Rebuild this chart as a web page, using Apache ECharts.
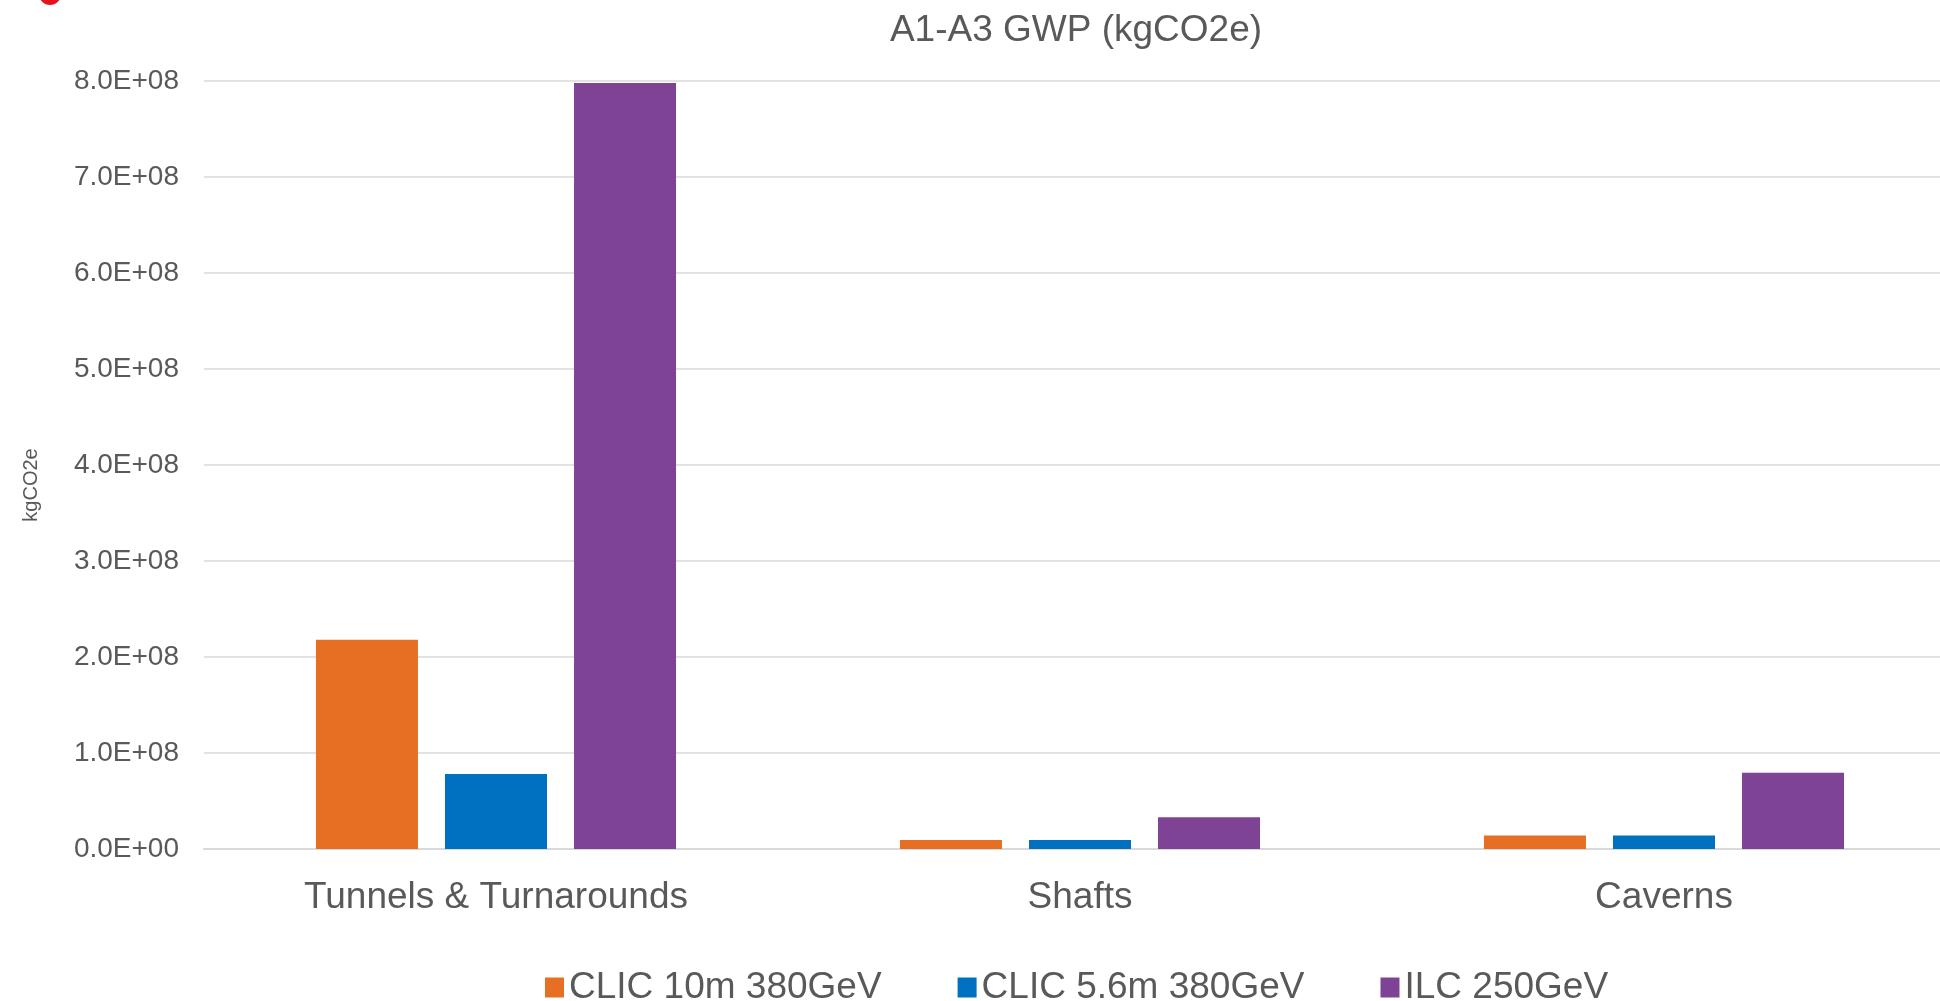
<!DOCTYPE html>
<html>
<head>
<meta charset="utf-8">
<script src="https://cdn.jsdelivr.net/npm/echarts@6/dist/echarts.min.js"></script>
<style>
html,body{margin:0;padding:0;background:#fff;overflow:hidden;}
#chart{width:1960px;height:1001px;}
</style>
</head>
<body>
<div id="chart"></div>
<script>
var categories = ['Tunnels & Turnarounds', 'Shafts', 'Caverns'];
var seriesNames = ['CLIC 10m 380GeV', 'CLIC 5.6m 380GeV', 'ILC 250GeV'];
var clic10 = [2.18e8, 9.5e6, 1.4e7];
var clic56 = [7.8e7, 9.5e6, 1.4e7];
var ilc250 = [7.98e8, 3.3e7, 7.95e7];
var yMin = 0, yMax = 8e8, yStep = 1e8;
var yAxisTitle = 'kgCO2e';

function sci(v) {
  if (v === 0) return '0.0E+00';
  var e = Math.floor(Math.log10(Math.abs(v)) + 1e-9);
  var m = v / Math.pow(10, e);
  var es = (e < 0 ? '-' : '+') + (Math.abs(e) < 10 ? '0' : '') + Math.abs(e);
  return m.toFixed(1) + 'E' + es;
}

var colors = ['#E66F24', '#0070C0', '#7E4395'];
var font = '"Liberation Sans", Arial, sans-serif';
var chart = echarts.init(document.getElementById('chart'), null, {renderer: 'canvas'});
chart.setOption({
  animation: false,
  backgroundColor: '#fff',
  color: colors,
  title: {
    text: 'A1-A3 GWP (kgCO2e)',
    left: 1076,
    top: 12,
    textAlign: 'center',
    padding: 0,
    textStyle: {fontFamily: font, fontSize: 37, fontWeight: 'normal', color: '#595959'}
  },
  grid: {left: 204, width: 1752, top: 81, bottom: 152, containLabel: false},
  legend: {
    left: 545,
    top: 969,
    padding: 0,
    itemWidth: 19,
    itemHeight: 20,
    itemGap: 76,
    icon: 'rect',
    textStyle: {fontFamily: font, fontSize: 37, color: '#595959'},
    data: seriesNames
  },
  xAxis: {
    type: 'category',
    data: categories,
    axisLine: {show: true, lineStyle: {color: '#d9d9d9', width: 2}},
    axisTick: {show: false},
    axisLabel: {fontFamily: font, fontSize: 37, color: '#595959', margin: 30},
    splitLine: {show: false}
  },
  yAxis: {
    type: 'value',
    min: yMin,
    max: yMax,
    interval: yStep,
    axisLine: {show: false},
    axisTick: {show: false},
    axisLabel: {fontFamily: font, fontSize: 28, color: '#595959', margin: 25, formatter: sci},
    splitLine: {lineStyle: {color: '#d9d9d9', width: 1.5}}
  },
  series: [
    {name: seriesNames[0], type: 'bar', data: clic10, barWidth: 102, barGap: '26.5%'},
    {name: seriesNames[1], type: 'bar', data: clic56, barWidth: 102, barGap: '26.5%'},
    {name: seriesNames[2], type: 'bar', data: ilc250, barWidth: 102, barGap: '26.5%'}
  ],
  graphic: [
    {type: 'circle', shape: {cx: 50, cy: -6, r: 11}, style: {fill: '#E3141E'}, silent: true},
    {type: 'text', x: 31, y: 485, rotation: Math.PI / 2, silent: true,
     style: {text: yAxisTitle, fontFamily: font, fontSize: 20, fill: '#595959', align: 'center', verticalAlign: 'middle'}}
  ]
});
</script>
</body>
</html>
